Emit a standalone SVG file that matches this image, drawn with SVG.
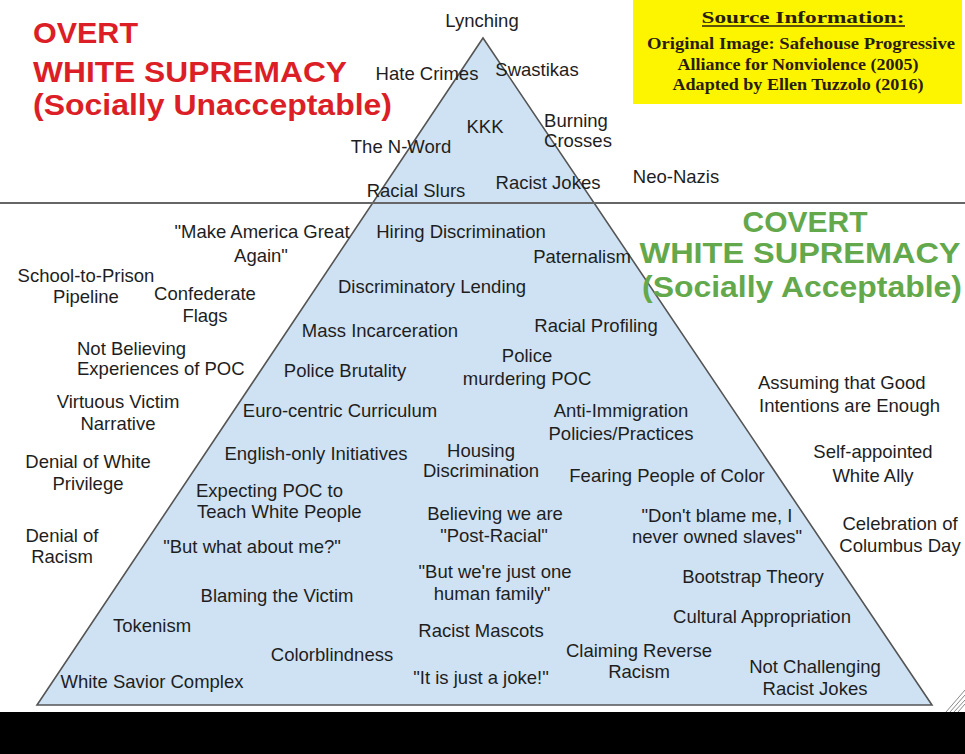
<svg xmlns="http://www.w3.org/2000/svg" width="965" height="754" viewBox="0 0 965 754">
<style>
.l{font-family:"Liberation Sans",Arial,sans-serif;font-size:18.5px;fill:#1e1e1e;text-anchor:middle}
.s{text-anchor:start}
.red{font-family:"Liberation Sans",Arial,sans-serif;font-weight:bold;font-size:29.5px;fill:#dc1f26}
.grn{font-family:"Liberation Sans",Arial,sans-serif;font-weight:bold;font-size:29.5px;fill:#64a84c;text-anchor:middle}
.src{font-family:"Liberation Serif","Times New Roman",serif;font-weight:bold;font-size:17px;fill:#2a1c0c;text-anchor:middle}
</style>
<rect x="0" y="0" width="965" height="754" fill="#ffffff"/>
<g id="shapes">
<polygon id="pyramid" points="483,38 37,705 932,705" fill="#cfe2f3" stroke="#555555" stroke-width="1.6" stroke-linejoin="miter"/>
<line id="divider" x1="0" y1="203" x2="965" y2="203" stroke="#666666" stroke-width="2"/>
<rect x="0" y="712" width="965" height="42" fill="#000000"/>
<g stroke="#8a8a8a" stroke-width="1">
<line x1="946" y1="712" x2="965" y2="690"/><line x1="950" y1="712" x2="965" y2="695"/><line x1="954" y1="712" x2="965" y2="700"/><line x1="958" y1="712" x2="965" y2="704"/>
</g>
</g>
<g id="source-box">
<rect x="633" y="0" width="329" height="104" fill="#fdf500"/>
<text class="src" x="803" y="23" font-size="20.5" textLength="203" lengthAdjust="spacingAndGlyphs">Source Information:</text>
<line x1="702" y1="26" x2="905" y2="26" stroke="#2a1c0c" stroke-width="1.5"/>
<text class="src" x="801" y="49" textLength="308" lengthAdjust="spacingAndGlyphs">Original Image: Safehouse Progressive</text>
<text class="src" x="798" y="70" textLength="241" lengthAdjust="spacingAndGlyphs">Alliance for Nonviolence (2005)</text>
<text class="src" x="798" y="90" textLength="251" lengthAdjust="spacingAndGlyphs">Adapted by Ellen Tuzzolo (2016)</text>
</g>
<g id="title-overt">
<text class="red" x="33" y="43" textLength="105" lengthAdjust="spacingAndGlyphs">OVERT</text>
<text class="red" x="33" y="82" textLength="314" lengthAdjust="spacingAndGlyphs">WHITE SUPREMACY</text>
<text class="red" x="33" y="115" textLength="359" lengthAdjust="spacingAndGlyphs">(Socially Unacceptable)</text>
</g>
<g id="title-covert">
<text class="grn" x="805" y="232" textLength="125" lengthAdjust="spacingAndGlyphs">COVERT</text>
<text class="grn" x="800" y="263" textLength="321" lengthAdjust="spacingAndGlyphs">WHITE SUPREMACY</text>
<text class="grn" x="802" y="297" textLength="320" lengthAdjust="spacingAndGlyphs">(Socially Acceptable)</text>
</g>
<g id="connectors"></g>
<g id="n-lynching"><text class="l" x="482" y="27">Lynching</text></g>
<g id="n-hate-crimes"><text class="l" x="427" y="80">Hate Crimes</text></g>
<g id="n-swastikas"><text class="l" x="537" y="76">Swastikas</text></g>
<g id="n-kkk"><text class="l" x="485" y="133">KKK</text></g>
<g id="n-burning-crosses"><text class="l" x="576" y="127">Burning</text><text class="l" x="578" y="147">Crosses</text></g>
<g id="n-n-word"><text class="l" x="401" y="153">The N-Word</text></g>
<g id="n-racial-slurs"><text class="l" x="416" y="197">Racial Slurs</text></g>
<g id="n-racist-jokes"><text class="l" x="548" y="189">Racist Jokes</text></g>
<g id="n-neo-nazis"><text class="l" x="676" y="183">Neo-Nazis</text></g>
<g id="n-maga"><text class="l" x="262" y="238">"Make America Great</text><text class="l" x="261" y="262">Again"</text></g>
<g id="n-hiring"><text class="l" x="461" y="238">Hiring Discrimination</text></g>
<g id="n-paternalism"><text class="l" x="582" y="263">Paternalism</text></g>
<g id="n-school-prison"><text class="l" x="86" y="282">School-to-Prison</text><text class="l" x="86" y="303">Pipeline</text></g>
<g id="n-confederate"><text class="l" x="205" y="300">Confederate</text><text class="l" x="205" y="322">Flags</text></g>
<g id="n-lending"><text class="l" x="432" y="293">Discriminatory Lending</text></g>
<g id="n-mass-incarceration"><text class="l" x="380" y="337">Mass Incarceration</text></g>
<g id="n-racial-profiling"><text class="l" x="596" y="332">Racial Profiling</text></g>
<g id="n-not-believing"><text class="l s" x="77" y="355">Not Believing</text><text class="l s" x="77" y="375">Experiences of POC</text></g>
<g id="n-police-brutality"><text class="l" x="345" y="377">Police Brutality</text></g>
<g id="n-police-murdering"><text class="l" x="527" y="362">Police</text><text class="l" x="527" y="385">murdering POC</text></g>
<g id="n-virtuous-victim"><text class="l" x="118" y="408">Virtuous Victim</text><text class="l" x="118" y="430">Narrative</text></g>
<g id="n-eurocentric"><text class="l" x="340" y="417">Euro-centric Curriculum</text></g>
<g id="n-anti-immigration"><text class="l" x="621" y="417">Anti-Immigration</text><text class="l" x="621" y="440">Policies/Practices</text></g>
<g id="n-good-intentions"><text class="l s" x="758" y="389">Assuming that Good</text><text class="l s" x="759" y="412">Intentions are Enough</text></g>
<g id="n-english-only"><text class="l" x="316" y="460">English-only Initiatives</text></g>
<g id="n-housing"><text class="l" x="481" y="457">Housing</text><text class="l" x="481" y="477">Discrimination</text></g>
<g id="n-denial-privilege"><text class="l" x="88" y="468">Denial of White</text><text class="l" x="88" y="490">Privilege</text></g>
<g id="n-fearing"><text class="l" x="667" y="482">Fearing People of Color</text></g>
<g id="n-white-ally"><text class="l" x="873" y="458">Self-appointed</text><text class="l" x="873" y="482">White Ally</text></g>
<g id="n-expecting-poc"><text class="l s" x="196" y="497">Expecting POC to</text><text class="l s" x="197" y="518">Teach White People</text></g>
<g id="n-post-racial"><text class="l" x="495" y="520">Believing we are</text><text class="l" x="494" y="542">"Post-Racial"</text></g>
<g id="n-dont-blame"><text class="l" x="717" y="522">"Don't blame me, I</text><text class="l" x="717" y="543">never owned slaves"</text></g>
<g id="n-denial-racism"><text class="l" x="62" y="542">Denial of</text><text class="l" x="62" y="563">Racism</text></g>
<g id="n-columbus"><text class="l" x="900" y="530">Celebration of</text><text class="l" x="900" y="552">Columbus Day</text></g>
<g id="n-about-me"><text class="l" x="252" y="553">"But what about me?"</text></g>
<g id="n-one-family"><text class="l" x="495" y="578">"But we're just one</text><text class="l" x="492" y="600">human family"</text></g>
<g id="n-bootstrap"><text class="l" x="753" y="583">Bootstrap Theory</text></g>
<g id="n-blaming"><text class="l" x="277" y="602">Blaming the Victim</text></g>
<g id="n-appropriation"><text class="l" x="762" y="623">Cultural Appropriation</text></g>
<g id="n-tokenism"><text class="l" x="152" y="632">Tokenism</text></g>
<g id="n-mascots"><text class="l" x="481" y="637">Racist Mascots</text></g>
<g id="n-reverse-racism"><text class="l" x="639" y="657">Claiming Reverse</text><text class="l" x="639" y="678">Racism</text></g>
<g id="n-colorblindness"><text class="l" x="332" y="661">Colorblindness</text></g>
<g id="n-not-challenging"><text class="l" x="815" y="673">Not Challenging</text><text class="l" x="815" y="695">Racist Jokes</text></g>
<g id="n-savior"><text class="l" x="152" y="688">White Savior Complex</text></g>
<g id="n-joke"><text class="l" x="481" y="684">"It is just a joke!"</text></g>
</svg>
